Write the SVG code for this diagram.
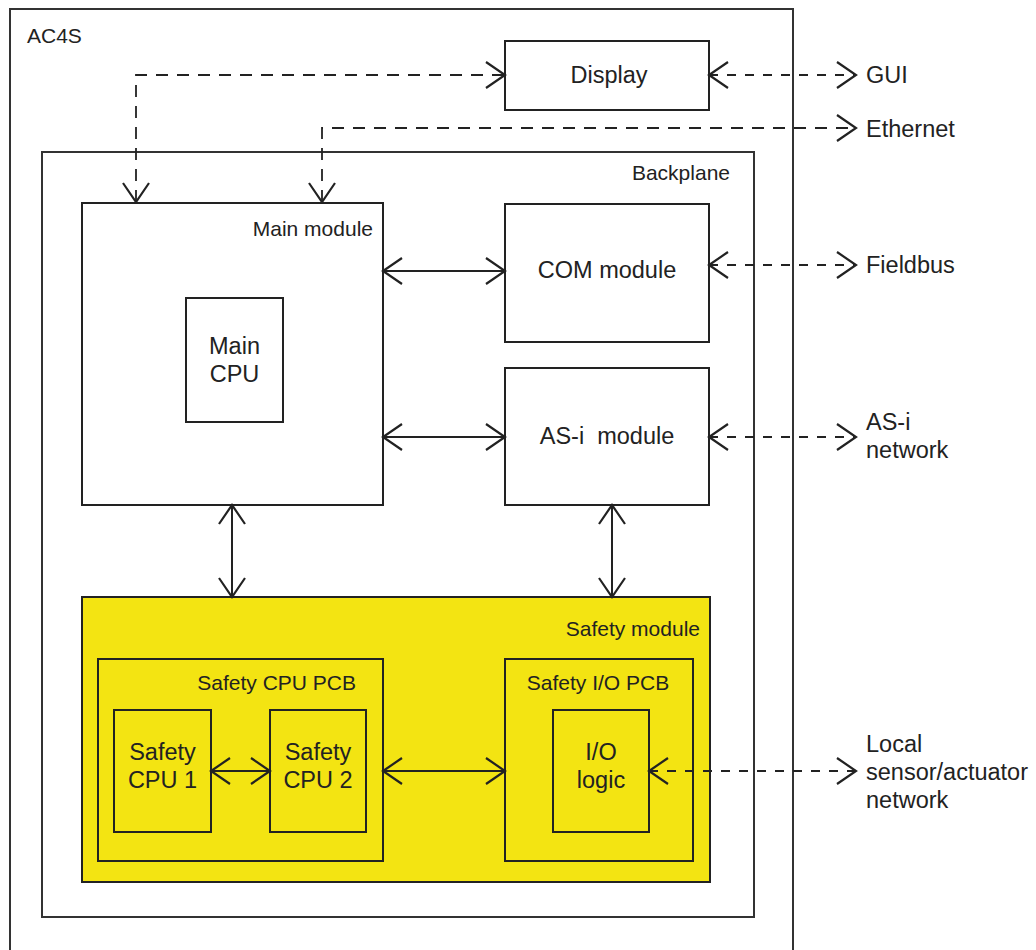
<svg xmlns="http://www.w3.org/2000/svg" width="1036" height="950" viewBox="0 0 1036 950">
<style>
.box{fill:#fff;stroke:#222;stroke-width:2}
.outer{fill:#fff;stroke:#333;stroke-width:2}
.y{fill:#f3e412;stroke:#222;stroke-width:2}
text{font-family:"Liberation Sans",Arial,sans-serif;fill:#222}
.l{font-size:23.5px}
.s{font-size:21px}
.m{text-anchor:middle}
.r{text-anchor:end}
.c{fill:none;stroke:#222;stroke-width:2;marker-start:url(#a);marker-end:url(#a)}
.d{fill:none;stroke:#222;stroke-width:1.8;stroke-dasharray:12 9;marker-start:url(#a);marker-end:url(#a)}
.d2{stroke-dasharray:9 9}
</style>
<defs>
<marker id="a" markerUnits="userSpaceOnUse" viewBox="-22 -16 24 32" refX="0" refY="0" markerWidth="24" markerHeight="32" orient="auto-start-reverse">
<path d="M-19,-13 L0,0 L-19,13" fill="none" stroke="#222" stroke-width="2.2"/>
</marker>
</defs>
<rect width="1036" height="950" fill="#fff"/>
<g id="ac4s"><rect class="outer" x="10" y="9" width="783" height="960"/><text class="s" x="27" y="43">AC4S</text></g>
<g id="backplane"><rect class="outer" x="42" y="152" width="712" height="765"/><text class="s r" x="730" y="180">Backplane</text></g>
<g id="display"><rect class="box" x="505" y="41" width="204" height="69"/><text class="l m" x="609" y="83">Display</text></g>
<g id="main-module"><rect class="box" x="82" y="203" width="301" height="302"/><text class="s r" x="373" y="236">Main module</text></g>
<g id="main-cpu"><rect class="box" x="186" y="298" width="97" height="124"/><text class="l m" x="234.5" y="354">Main</text><text class="l m" x="234.5" y="382">CPU</text></g>
<g id="com-module"><rect class="box" x="505" y="204" width="204" height="138"/><text class="l m" x="607" y="278">COM module</text></g>
<g id="asi-module"><rect class="box" x="505" y="368" width="204" height="137"/><text class="l m" x="607" y="444" style="white-space:pre">AS-i  module</text></g>
<g id="safety-module"><rect class="y" x="82" y="597" width="628" height="285"/><text class="s r" x="700" y="636">Safety module</text></g>
<g id="safety-cpu-pcb"><rect class="y" x="98" y="659" width="285" height="202"/><text class="s r" x="356" y="690">Safety CPU PCB</text></g>
<g id="safety-cpu-1"><rect class="y" x="114" y="710" width="97" height="122"/><text class="l m" x="162.5" y="760">Safety</text><text class="l m" x="162.5" y="788">CPU 1</text></g>
<g id="safety-cpu-2"><rect class="y" x="270" y="710" width="96" height="122"/><text class="l m" x="318" y="760">Safety</text><text class="l m" x="318" y="788">CPU 2</text></g>
<g id="safety-io-pcb"><rect class="y" x="505" y="659" width="188" height="202"/><text class="s m" x="598" y="690">Safety I/O PCB</text></g>
<g id="io-logic"><rect class="y" x="553" y="710" width="96" height="122"/><text class="l m" x="601" y="760">I/O</text><text class="l m" x="601" y="788">logic</text></g>
<g id="gui"><text class="l" x="866" y="83">GUI</text></g>
<g id="ethernet"><text class="l" x="866" y="137">Ethernet</text></g>
<g id="fieldbus"><text class="l" x="866" y="273">Fieldbus</text></g>
<g id="asi-network"><text class="l" x="866" y="430">AS-i</text><text class="l" x="866" y="458">network</text></g>
<g id="local-network"><text class="l" x="866" y="752">Local</text><text class="l" x="866" y="780">sensor/actuator</text><text class="l" x="866" y="808">network</text></g>
<g id="connectors">
<path class="d" d="M136,202 L136,75 L505,75"/>
<path class="d" d="M322,202 L322,128 L856,128"/>
<path class="d d2" d="M709,75 L856,75"/>
<path class="d d2" d="M709,265 L856,265"/>
<path class="d d2" d="M709,437 L856,437"/>
<path class="d d2" d="M649,771 L856,771"/>
<path class="c" d="M383,271 L505,271"/>
<path class="c" d="M383,437 L505,437"/>
<path class="c" d="M232,505 L232,597"/>
<path class="c" d="M612,505 L612,597"/>
<path class="c" d="M211,771 L270,771"/>
<path class="c" d="M383,771 L505,771"/>
</g>
</svg>
